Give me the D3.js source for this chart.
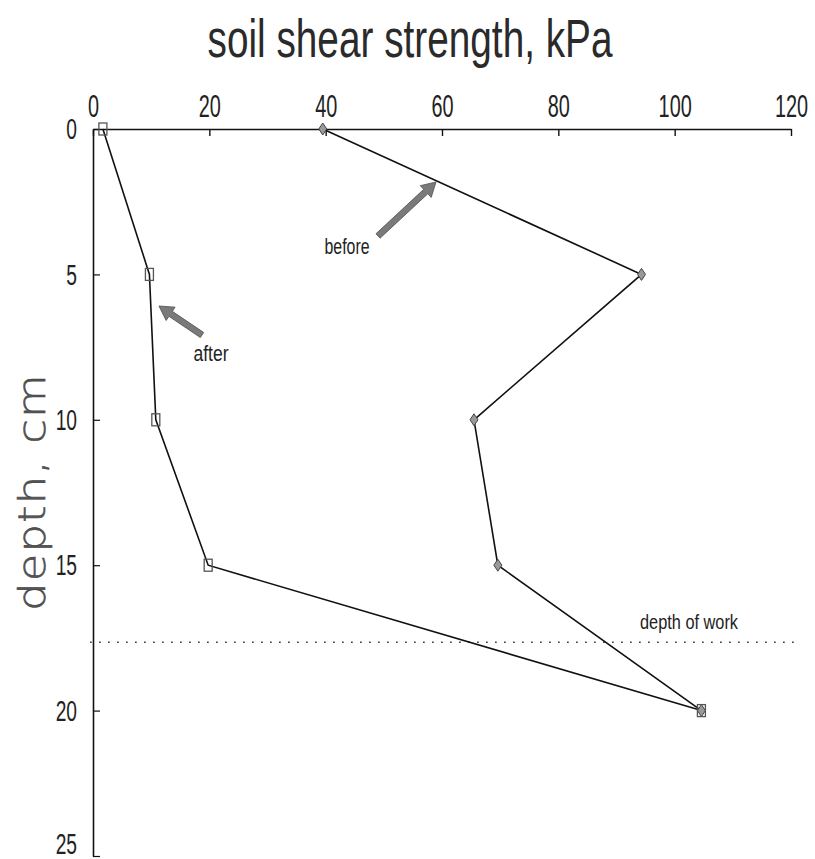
<!DOCTYPE html>
<html><head><meta charset="utf-8">
<script src="https://cdn.jsdelivr.net/npm/d3@7"></script>
<style>body{margin:0;background:#fff}</style>
</head><body>
<svg id="c" width="815" height="859"></svg>
<script>
const depths = [0, 5, 10, 15, 20];
const beforeVals = [39.5, 94.3, 65.5, 69.6, 104.6];
const afterVals = [1.7, 9.7, 10.8, 19.8, 104.6];
const xTicks = [0, 20, 40, 60, 80, 100, 120];
const yTicks = [0, 5, 10, 15, 20, 25];
const workDepth = 17.65;

const svg = d3.select("#c");
const font = "'Liberation Sans', Arial, sans-serif";
const x = d3.scaleLinear().domain([0, 120]).range([93, 791]);
const y = d3.scaleLinear().domain([0, 25]).range([129, 856]);

// helper: condensed text fitted to a width
function fitText(txt, cx, by, size, width, fill) {
  const t = svg.append("text").attr("text-anchor", "middle")
    .style("font-family", font).style("font-size", size + "px").attr("fill", fill || "#222").text(txt);
  const w = t.node().getComputedTextLength();
  const k = width / w;
  t.attr("transform", `translate(${cx},${by}) scale(${k},1)`);
  return t;
}

// title
fitText("soil shear strength, kPa", 410, 57, 54, 405, "#2a2a2a");

// y title (rotated, wide rounded look)
{
  const t = svg.append("text").attr("text-anchor", "middle")
    .style("font-family", "'DejaVu Sans', sans-serif").style("font-weight", "200").style("font-size", "38px")
    .style("letter-spacing", "1px").attr("fill", "#555").attr("stroke", "#444").attr("stroke-width", 0.5)
    .text("depth, cm");
  const w = t.node().getComputedTextLength();
  const k = 238 / w;
  t.attr("transform", `translate(45,492) rotate(-90) scale(${k},1)`);
}

const tickScale = 0.64;
// x axis
const xAxis = d3.axisTop(x).tickValues(xTicks).tickSizeInner(-7).tickSizeOuter(0).tickPadding(12).tickFormat(d3.format("d"));
const gx = svg.append("g").attr("transform", `translate(0,${y(0)})`).call(xAxis);
gx.select(".domain").attr("stroke", "#111").attr("stroke-width", 1.6);
gx.selectAll(".tick line").attr("stroke", "#111").attr("stroke-width", 1.4);
gx.selectAll(".tick text").style("font-family", font).style("font-size", "31px").attr("fill", "#222")
  .attr("transform", `scale(${tickScale},1)`);

// y axis
const yAxis = d3.axisLeft(y).tickValues(yTicks).tickSizeInner(-7).tickSizeOuter(0).tickPadding(16).tickFormat(d3.format("d"));
const gy = svg.append("g").attr("transform", `translate(${x(0)},0)`).call(yAxis);
gy.select(".domain").attr("stroke", "#111").attr("stroke-width", 1.6);
gy.selectAll(".tick line").attr("stroke", "#111").attr("stroke-width", 1.2);
gy.selectAll(".tick text").style("font-family", font).style("font-size", "30px").attr("fill", "#222")
  .attr("x", -16 / tickScale).attr("transform", `scale(${tickScale},1)`)
  .attr("y", d => d === 25 ? -12 : 0);

// depth of work line
svg.append("line").attr("x1", x(-0.5)).attr("x2", x(121.5)).attr("y1", y(workDepth)).attr("y2", y(workDepth))
  .attr("stroke", "#333").attr("stroke-width", 1.6).attr("stroke-dasharray", "1.6,7.4");
fitText("depth of work", 689, 629, 21, 98);

const line = d3.line().x(d => x(d[0])).y(d => y(d[1]));
const beforeData = depths.map((d, i) => [beforeVals[i], d]);
const afterData = depths.map((d, i) => [afterVals[i], d]);

svg.append("path").datum(beforeData).attr("d", line).attr("fill", "none").attr("stroke", "#111").attr("stroke-width", 1.6);
svg.append("path").datum(afterData).attr("d", line).attr("fill", "none").attr("stroke", "#111").attr("stroke-width", 1.6);

// markers
svg.selectAll(".dia").data(beforeData).enter().append("path")
  .attr("transform", d => `translate(${x(d[0])},${y(d[1])})`)
  .attr("d", "M0,-6L4,0L0,6L-4,0Z").attr("fill", "#999").attr("stroke", "#444").attr("stroke-width", 1);
svg.selectAll(".sq").data(afterData).enter().append("rect")
  .attr("x", d => x(d[0]) - 4).attr("y", d => y(d[1]) - 6).attr("width", 8).attr("height", 12)
  .attr("fill", "none").attr("stroke", "#555").attr("stroke-width", 1.3);

// arrows
function arrow(x1, y1, x2, y2) {
  const ang = Math.atan2(y2 - y1, x2 - x1);
  const len = Math.hypot(x2 - x1, y2 - y1);
  const g = svg.append("g").attr("transform", `translate(${x1},${y1}) rotate(${ang * 180 / Math.PI})`);
  const hl = 14, hw = 8, sw = 3;
  g.append("path").attr("d", `M0,${-sw}L${len - hl},${-sw}L${len - hl},${-hw}L${len},0L${len - hl},${hw}L${len - hl},${sw}L0,${sw}Z`)
    .attr("fill", "#7a7a7a").attr("stroke", "#555").attr("stroke-width", 0.8);
}
arrow(378, 236, 436, 182);
arrow(202, 335, 159, 306);
fitText("before", 347, 254, 22, 45);
fitText("after", 211, 361, 22, 35);
</script>
</body></html>
